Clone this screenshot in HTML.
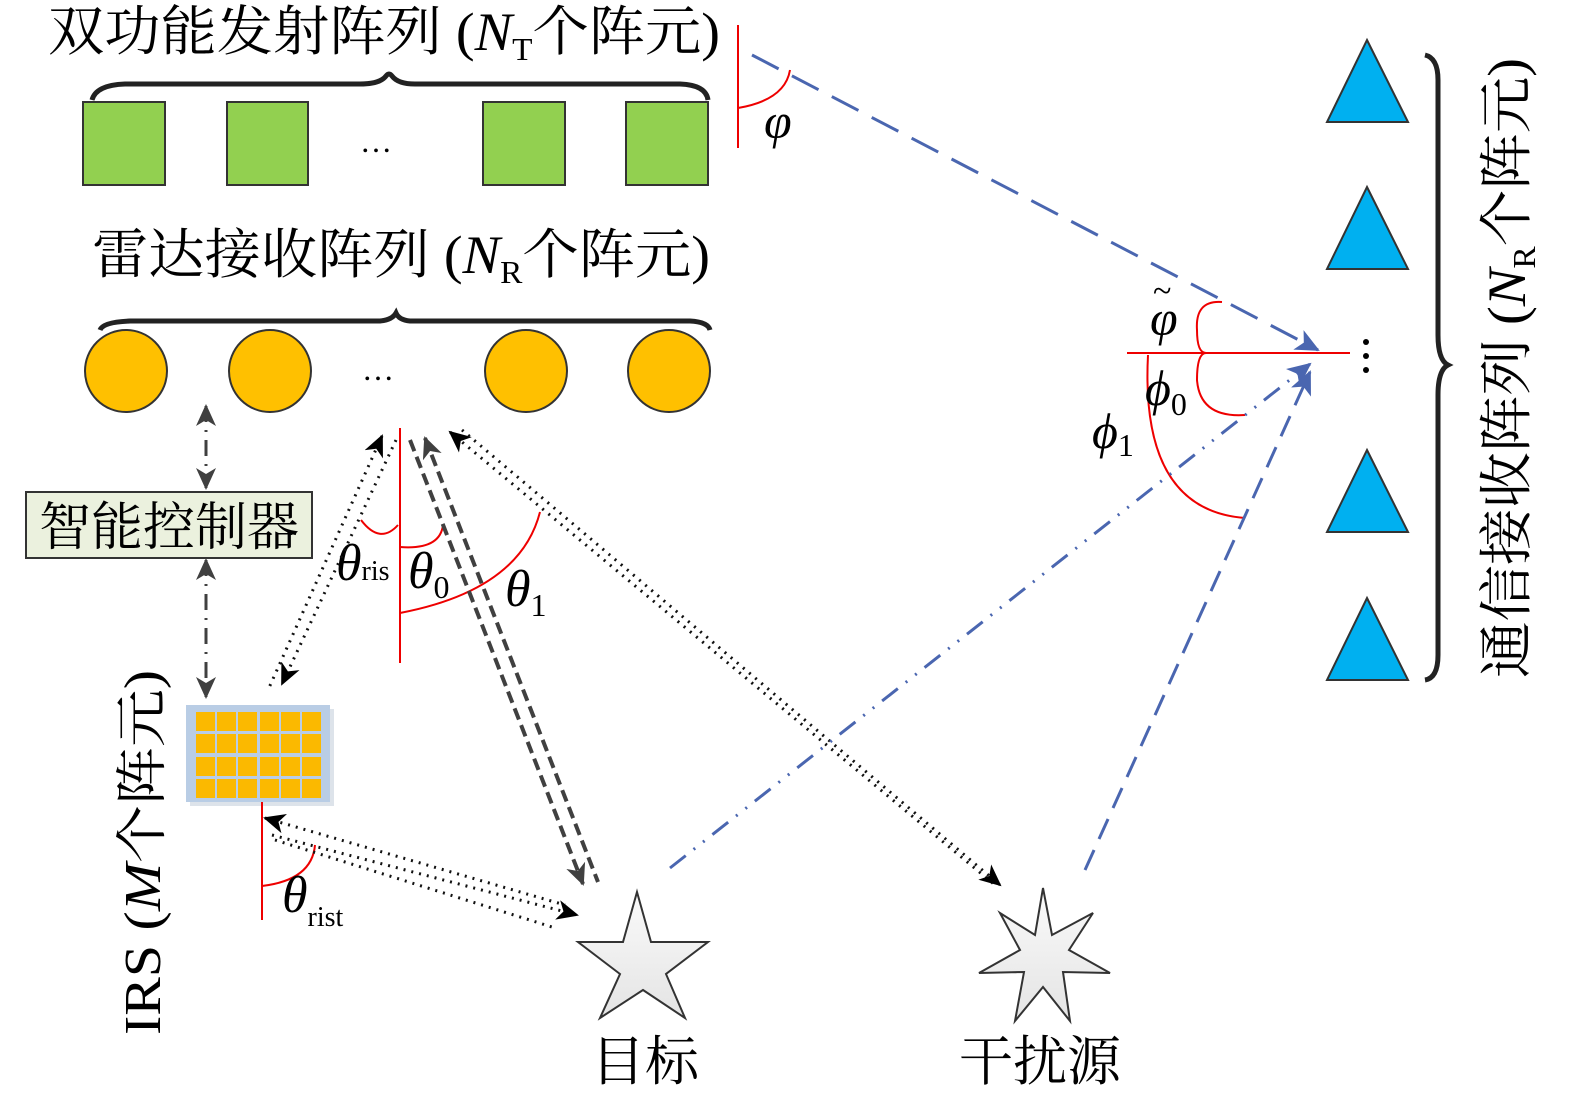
<!DOCTYPE html>
<html><head><meta charset="utf-8"><style>
html,body{margin:0;padding:0;background:#fff;}
svg{display:block;}
.cj{font-family:"Liberation Serif","Noto Serif CJK SC",serif;fill:#000;}
.it{font-family:"Liberation Serif",serif;font-style:italic;fill:#000;}
.rm{font-family:"Liberation Serif",serif;font-style:normal;fill:#000;}
</style></head><body>
<svg width="1575" height="1096" viewBox="0 0 1575 1096" xmlns="http://www.w3.org/2000/svg">
<defs>
<marker id="ak2" markerWidth="22" markerHeight="20" refX="20" refY="10" orient="auto" markerUnits="userSpaceOnUse"><path d="M0,0 L22,10 L0,20 L6,10z" fill="#000"/></marker>
<marker id="ak2s" markerWidth="22" markerHeight="20" refX="2" refY="10" orient="auto" markerUnits="userSpaceOnUse"><path d="M22,0 L0,10 L22,20 L16,10z" fill="#000"/></marker>
<marker id="ag" markerWidth="22" markerHeight="20" refX="20" refY="10" orient="auto" markerUnits="userSpaceOnUse"><path d="M0,0 L22,10 L0,20 L6,10z" fill="#404040"/></marker>
<marker id="ags" markerWidth="22" markerHeight="20" refX="2" refY="10" orient="auto" markerUnits="userSpaceOnUse"><path d="M22,0 L0,10 L22,20 L16,10z" fill="#404040"/></marker>
<marker id="ab" markerWidth="24" markerHeight="22" refX="22" refY="11" orient="auto" markerUnits="userSpaceOnUse"><path d="M0,0 L24,11 L0,22 L6,11z" fill="#4a66b0"/></marker>
<linearGradient id="sg" x1="0" y1="0" x2="0" y2="1"><stop offset="0" stop-color="#fafafa"/><stop offset="1" stop-color="#e4e4e4"/></linearGradient>
</defs>

<text class="cj" x="48" y="50" font-size="54" textLength="672" lengthAdjust="spacingAndGlyphs">双功能发射阵列 (<tspan class="it">N</tspan><tspan class="rm" font-size="32" dy="10">T</tspan><tspan dy="-10">个阵元)</tspan></text>
<path d="M92,100 Q96,85 125,84 L360,84 Q380,84 386,76 Q389,72 392,76 Q398,84 415,84 L680,84 Q706,85 708,100" fill="none" stroke="#222" stroke-width="5"/>
<g fill="#92d050" stroke="#333" stroke-width="2">
<rect x="83" y="102" width="82" height="83"/><rect x="227" y="102" width="81" height="83"/>
<rect x="483" y="102" width="82" height="83"/><rect x="626" y="102" width="82" height="83"/>
</g>
<text class="rm" x="360" y="152" font-size="32">…</text>

<text class="cj" x="92" y="273" font-size="54" textLength="618" lengthAdjust="spacingAndGlyphs">雷达接收阵列 (<tspan class="it">N</tspan><tspan class="rm" font-size="32" dy="10">R</tspan><tspan dy="-10">个阵元)</tspan></text>
<path d="M100,330 Q103,322 130,321 L380,321 Q392,320 396,313 Q399,320 410,321 L690,321 Q708,322 710,330" fill="none" stroke="#222" stroke-width="5"/>
<g fill="#ffc000" stroke="#333" stroke-width="2">
<circle cx="126" cy="371" r="41"/><circle cx="270" cy="371" r="41"/>
<circle cx="526" cy="371" r="41"/><circle cx="669" cy="371" r="41"/>
</g>
<text class="rm" x="362" y="380" font-size="32">…</text>

<line x1="206" y1="406" x2="206" y2="488" stroke="#404040" stroke-width="3" stroke-dasharray="16,8,2,8" marker-start="url(#ags)" marker-end="url(#ag)"/>
<rect x="26" y="492" width="286" height="66" fill="#ebf1de" stroke="#333" stroke-width="2"/>
<text class="cj" x="169" y="545" font-size="52" text-anchor="middle">智能控制器</text>
<line x1="206" y1="560" x2="206" y2="697" stroke="#404040" stroke-width="3" stroke-dasharray="16,8,2,8" marker-start="url(#ags)" marker-end="url(#ag)"/>

<rect x="190" y="709" width="144" height="97" fill="#dde3ea"/>
<rect x="186" y="705" width="144" height="97" fill="#b9cde5"/>
<g fill="#fbb900">
<rect x="196" y="712" width="19" height="19"/><rect x="217" y="712" width="19" height="19"/><rect x="238" y="712" width="19" height="19"/><rect x="260" y="712" width="19" height="19"/><rect x="281" y="712" width="19" height="19"/><rect x="302" y="712" width="19" height="19"/>
<rect x="196" y="734" width="19" height="19"/><rect x="217" y="734" width="19" height="19"/><rect x="238" y="734" width="19" height="19"/><rect x="260" y="734" width="19" height="19"/><rect x="281" y="734" width="19" height="19"/><rect x="302" y="734" width="19" height="19"/>
<rect x="196" y="757" width="19" height="19"/><rect x="217" y="757" width="19" height="19"/><rect x="238" y="757" width="19" height="19"/><rect x="260" y="757" width="19" height="19"/><rect x="281" y="757" width="19" height="19"/><rect x="302" y="757" width="19" height="19"/>
<rect x="196" y="779" width="19" height="19"/><rect x="217" y="779" width="19" height="19"/><rect x="238" y="779" width="19" height="19"/><rect x="260" y="779" width="19" height="19"/><rect x="281" y="779" width="19" height="19"/><rect x="302" y="779" width="19" height="19"/>
</g>
<text class="cj" transform="translate(160,1035) rotate(-90)" font-size="52" textLength="365" lengthAdjust="spacingAndGlyphs">IRS (<tspan class="it">M</tspan>个阵元)</text>

<g stroke="#e00" stroke-width="2" fill="none">
<line x1="400" y1="428" x2="400" y2="663"/>
<path d="M361,520 Q380,545 398,525"/>
<path d="M400,547 Q440,550 443,525"/>
<path d="M400,613 Q520,590 540,512"/>
<line x1="262" y1="802" x2="262" y2="920"/>
<path d="M262,886 Q312,880 315,845"/>
<line x1="738" y1="25" x2="738" y2="148"/>
<path d="M738,108 Q785,100 790,70"/>
<line x1="1127" y1="353" x2="1350" y2="353"/>
<path d="M1222,302 Q1195,300 1197,330 Q1197,353 1206,353 Q1197,353 1197,380 Q1200,418 1245,415"/>
<path d="M1148,355 Q1140,510 1245,518"/>
</g>
<text class="it" x="336" y="580" font-size="52">θ<tspan class="rm" font-size="28">ris</tspan></text>
<text class="it" x="408" y="588" font-size="52">θ<tspan class="rm" font-size="32" dy="10">0</tspan></text>
<text class="it" x="505" y="606" font-size="52">θ<tspan class="rm" font-size="32" dy="10">1</tspan></text>
<text class="it" x="282" y="912" font-size="52">θ<tspan class="rm" font-size="28" dy="14">rist</tspan></text>
<text class="it" x="764" y="138" font-size="50">φ</text>
<text class="it" x="1150" y="335" font-size="50">φ</text>
<text class="rm" x="1153" y="302" font-size="34">~</text>
<text class="it" x="1145" y="405" font-size="50">ϕ<tspan class="rm" font-size="32" dy="10">0</tspan></text>
<text class="it" x="1092" y="448" font-size="50">ϕ<tspan class="rm" font-size="32" dy="8">1</tspan></text>

<g stroke="#111" stroke-width="3" fill="none" stroke-dasharray="2,6">
<line x1="382" y1="436" x2="268" y2="690" marker-start="url(#ak2s)"/>
<line x1="396" y1="440" x2="282" y2="684" marker-end="url(#ak2)"/>
<line x1="450" y1="432" x2="995" y2="885" marker-start="url(#ak2s)"/>
<line x1="462" y1="430" x2="1000" y2="885" marker-end="url(#ak2)"/>
<line x1="265" y1="818" x2="565" y2="905" marker-start="url(#ak2s)"/>
<line x1="272" y1="835" x2="577" y2="915" marker-end="url(#ak2)"/>
<line x1="275" y1="840" x2="552" y2="927"/>
</g>
<g stroke="#404040" stroke-width="4" fill="none" stroke-dasharray="12,6">
<line x1="425" y1="438" x2="598" y2="882" marker-start="url(#ags)"/>
<line x1="410" y1="440" x2="583" y2="884" marker-end="url(#ag)"/>
</g>

<line x1="752" y1="55" x2="1318" y2="350" stroke="#4a66b0" stroke-width="3" stroke-dasharray="30,15" marker-end="url(#ab)"/>
<line x1="670" y1="868" x2="1310" y2="364" stroke="#4a66b0" stroke-width="3" stroke-dasharray="20,10,2,10,2,10" marker-end="url(#ab)"/>
<line x1="1085" y1="870" x2="1310" y2="372" stroke="#4a66b0" stroke-width="3" stroke-dasharray="22,12" marker-end="url(#ab)"/>

<circle cx="1366" cy="342" r="3"/><circle cx="1366" cy="356" r="3"/><circle cx="1366" cy="370" r="3"/>

<g fill="#00b0f0" stroke="#333" stroke-width="2">
<polygon points="1367,40 1408,122 1327,122"/>
<polygon points="1367,187 1408,269 1327,269"/>
<polygon points="1367,450 1408,532 1327,532"/>
<polygon points="1367,598 1408,680 1327,680"/>
</g>
<path d="M1425,55 Q1438,58 1438,80 L1438,335 Q1438,360 1448,365 Q1438,370 1438,395 L1438,655 Q1438,678 1425,680" fill="none" stroke="#222" stroke-width="5"/>
<text class="cj" transform="translate(1525,678) rotate(-90)" font-size="54" textLength="620" lengthAdjust="spacingAndGlyphs">通信接收阵列 (<tspan class="it">N</tspan><tspan class="rm" font-size="32" dy="10">R</tspan><tspan dy="-10">个阵元)</tspan></text>

<polygon points="637,892 651,942 708,942 666,974 685,1018 643,990 600,1018 620,974 578,942 623,942" fill="url(#sg)" stroke="#333" stroke-width="2"/>
<polygon points="1043,888 1052,935 1093,913 1069,950 1110,973 1063,972 1070,1021 1043,987 1015,1021 1024,972 979,973 1020,950 1000,913 1035,935" fill="url(#sg)" stroke="#333" stroke-width="2"/>
<text class="cj" x="645" y="1080" font-size="54" text-anchor="middle">目标</text>
<text class="cj" x="1040" y="1080" font-size="54" text-anchor="middle">干扰源</text>
</svg>
</body></html>
